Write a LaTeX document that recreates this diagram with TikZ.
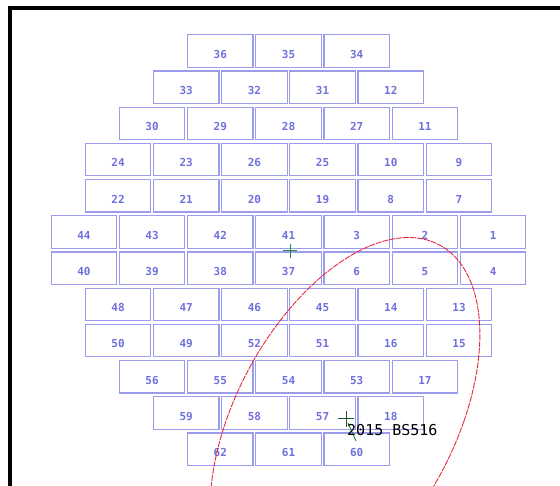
\documentclass[tikz,border=0pt]{standalone}
\usepackage{fontspec}
\usepackage{xcolor}
\setmonofont{DejaVu Sans Mono}
\definecolor{chipblue}{HTML}{9C9CEE}
\definecolor{labelblue}{HTML}{7070DC}
\definecolor{crossgreen}{HTML}{2E8B3E}
\definecolor{darkgreen}{HTML}{1E5A2A}
\definecolor{orbitred}{HTML}{E8283C}

\begin{document}
\begin{tikzpicture}[x=1pt, y=-1pt]
    % Stili per i chip e i segni
    \tikzset{
        chip box/.style={
            draw=chipblue,
            line width=1.2pt,
            minimum width=65.5pt,
            minimum height=32.5pt,
            inner sep=0pt,
            text=labelblue,
            font=\fontsize{11}{13}\selectfont\ttfamily\bfseries,
            text height=14.5pt,
            text depth=0pt
        },
        mark cross/.style={line width=1pt}
    }
    \useasboundingbox (0,0) rectangle (560,486);
    \clip (0,0) rectangle (560,486);

    % Cornice
    \draw[line width=3.5pt] (10,495) -- (10,8) -- (570,8);

    % Riga 1
    \node[chip box] (c36) at (220.3, 51) {36};
    \node[chip box] (c35) at (288.5, 51) {35};
    \node[chip box] (c34) at (356.7, 51) {34};
    % Riga 2
    \node[chip box] (c33) at (186.2, 87.2) {33};
    \node[chip box] (c32) at (254.4, 87.2) {32};
    \node[chip box] (c31) at (322.6, 87.2) {31};
    \node[chip box] (c12) at (390.8, 87.2) {12};
    % Riga 3
    \node[chip box] (c30) at (152.1, 123.4) {30};
    \node[chip box] (c29) at (220.3, 123.4) {29};
    \node[chip box] (c28) at (288.5, 123.4) {28};
    \node[chip box] (c27) at (356.7, 123.4) {27};
    \node[chip box] (c11) at (424.9, 123.4) {11};
    % Riga 4
    \node[chip box] (c24) at (118.0, 159.6) {24};
    \node[chip box] (c23) at (186.2, 159.6) {23};
    \node[chip box] (c26) at (254.4, 159.6) {26};
    \node[chip box] (c25) at (322.6, 159.6) {25};
    \node[chip box] (c10) at (390.8, 159.6) {10};
    \node[chip box] (c9)  at (459.0, 159.6) {9};
    % Riga 5
    \node[chip box] (c22) at (118.0, 195.8) {22};
    \node[chip box] (c21) at (186.2, 195.8) {21};
    \node[chip box] (c20) at (254.4, 195.8) {20};
    \node[chip box] (c19) at (322.6, 195.8) {19};
    \node[chip box] (c8)  at (390.8, 195.8) {8};
    \node[chip box] (c7)  at (459.0, 195.8) {7};
    % Riga 6
    \node[chip box] (c44) at (83.9, 232) {44};
    \node[chip box] (c43) at (152.1, 232) {43};
    \node[chip box] (c42) at (220.3, 232) {42};
    \node[chip box] (c41) at (288.5, 232) {41};
    \node[chip box] (c3)  at (356.7, 232) {3};
    \node[chip box] (c2)  at (424.9, 232) {2};
    \node[chip box] (c1)  at (493.1, 232) {1};
    % Riga 7
    \node[chip box] (c40) at (83.9, 268.2) {40};
    \node[chip box] (c39) at (152.1, 268.2) {39};
    \node[chip box] (c38) at (220.3, 268.2) {38};
    \node[chip box] (c37) at (288.5, 268.2) {37};
    \node[chip box] (c6)  at (356.7, 268.2) {6};
    \node[chip box] (c5)  at (424.9, 268.2) {5};
    \node[chip box] (c4)  at (493.1, 268.2) {4};
    % Riga 8
    \node[chip box] (c48) at (118.0, 304.4) {48};
    \node[chip box] (c47) at (186.2, 304.4) {47};
    \node[chip box] (c46) at (254.4, 304.4) {46};
    \node[chip box] (c45) at (322.6, 304.4) {45};
    \node[chip box] (c14) at (390.8, 304.4) {14};
    \node[chip box] (c13) at (459.0, 304.4) {13};
    % Riga 9
    \node[chip box] (c50) at (118.0, 340.6) {50};
    \node[chip box] (c49) at (186.2, 340.6) {49};
    \node[chip box] (c52) at (254.4, 340.6) {52};
    \node[chip box] (c51) at (322.6, 340.6) {51};
    \node[chip box] (c16) at (390.8, 340.6) {16};
    \node[chip box] (c15) at (459.0, 340.6) {15};
    % Riga 10
    \node[chip box] (c56) at (152.1, 376.8) {56};
    \node[chip box] (c55) at (220.3, 376.8) {55};
    \node[chip box] (c54) at (288.5, 376.8) {54};
    \node[chip box] (c53) at (356.7, 376.8) {53};
    \node[chip box] (c17) at (424.9, 376.8) {17};
    % Riga 11
    \node[chip box] (c59) at (186.2, 413) {59};
    \node[chip box] (c58) at (254.4, 413) {58};
    \node[chip box] (c57) at (322.6, 413) {57};
    \node[chip box] (c18) at (390.8, 413) {18};
    % Riga 12
    \node[chip box] (c62) at (220.3, 449.2) {62};
    \node[chip box] (c61) at (288.5, 449.2) {61};
    \node[chip box] (c60) at (356.7, 449.2) {60};

    % Ellisse di errore
    \draw[orbitred, line width=0.9pt, dash pattern=on 6pt off 1pt]
        plot[domain=0:360, samples=140, smooth]
        ({345 + 119*cos(\x) - 63.5*sin(\x)}, {421 + 183.5*sin(\x)});

    % Centro del campo
    \coordinate (fieldc) at (290, 251);
    \draw[mark cross, crossgreen] ([xshift=-7pt]fieldc) -- ([xshift=7pt]fieldc);
    \draw[mark cross, crossgreen] ([yshift=-7pt]fieldc) -- ([yshift=7pt]fieldc);

    % Asteroide
    \coordinate (astpos) at (346, 419);
    \coordinate (asttail) at (356, 441);
    \draw[mark cross, darkgreen] ([xshift=-8pt]astpos) -- ([xshift=8pt]astpos);
    \draw[mark cross, darkgreen] ([yshift=-8pt]astpos) -- ([yshift=8pt]astpos);
    \draw[mark cross, crossgreen] ([shift={(2,4)}]astpos) -- (asttail);
    \node[anchor=west, inner sep=0pt, font=\fontsize{15}{17}\selectfont\ttfamily]
        (astname) at (347, 430) {2015 BS516};
\end{tikzpicture}
\end{document}
